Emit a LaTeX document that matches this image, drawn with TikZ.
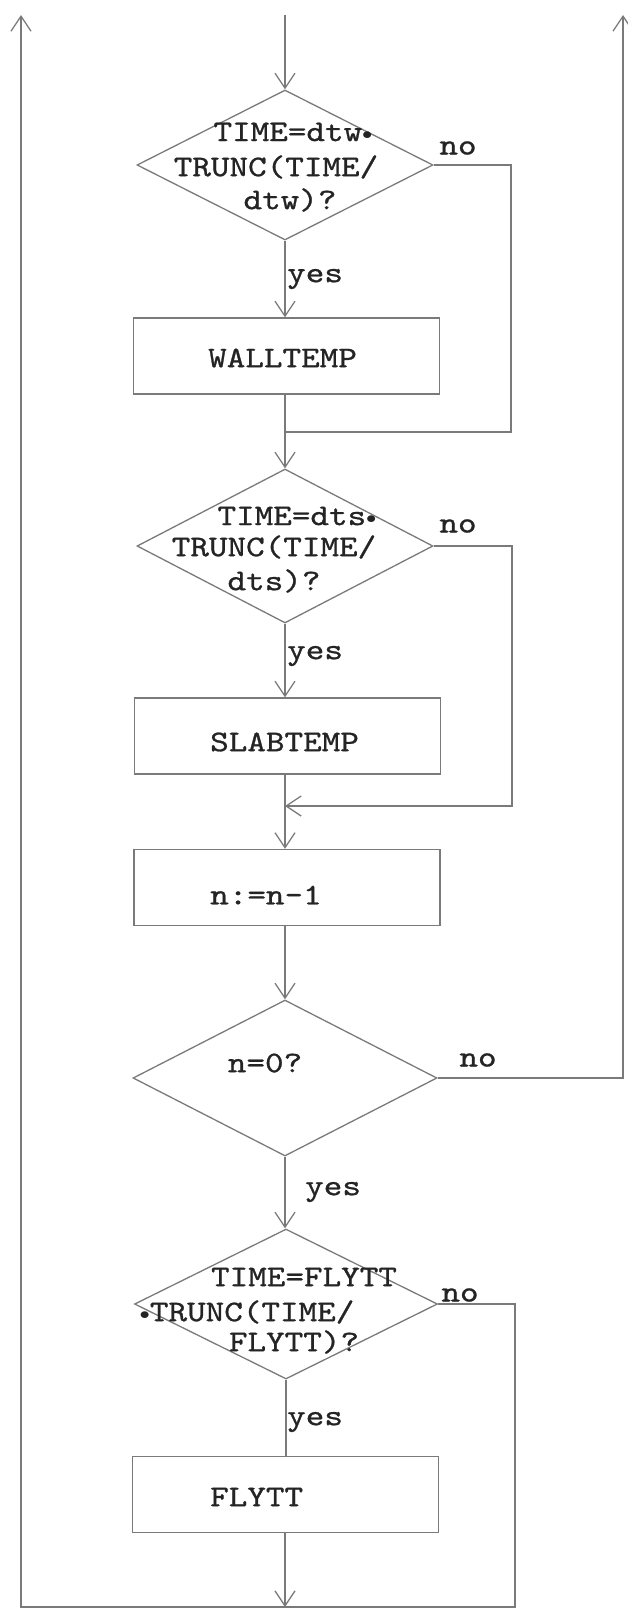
\documentclass[tikz,border=0pt]{standalone}
\usepackage{graphicx}
\usepackage{fontspec}
\newfontfamily\twfont{lmmono10-regular.otf}[FakeBold=0.8]
\usetikzlibrary{shapes.geometric,arrows.meta}
\definecolor{lncol}{HTML}{7A7A7A}
\definecolor{txcol}{HTML}{242424}
\newcommand{\tw}[1]{\scalebox{1.18}[1]{#1}}
\newcommand{\bdot}{\raisebox{0.15ex}{\scalebox{0.7}{$\bullet$}}}
\begin{document}
\begin{tikzpicture}[x=1pt,y=-1pt,
  lnst/.style={draw=lncol,line width=1.3pt},
  arr/.style={draw=lncol,line width=1.3pt,-{Straight Barb[length=15pt,width=20pt]}},
  boxnode/.style={draw=lncol,line width=1.3pt,rectangle,minimum width=306pt,minimum height=76pt,inner sep=0pt},
  dia/.style={draw=lncol,line width=1.3pt,diamond,inner sep=0pt},
  txt/.style={text=txcol,font=\fontsize{30}{34}\selectfont\twfont,inner sep=0pt},
]
\useasboundingbox (0,0) rectangle (627,1617);

% coordinates
\coordinate (top) at (285,15);
\coordinate (lt) at (21,15);
\coordinate (lb) at (21,1607);
\coordinate (rt) at (623,15);
\coordinate (c1) at (511,432);
\coordinate (j1) at (285,432);
\coordinate (c2) at (512,806);
\coordinate (j2) at (285,806);
\coordinate (c4) at (515,1607);
\coordinate (j4) at (285,1607);

% diamond 1
\node[dia,minimum width=296pt,minimum height=150pt] (d1) at (285,165) {};
\node[txt] (d1a) at (293,132) {\tw{TIME=dtw\bdot}};
\node[txt] (d1b) at (276,167) {\tw{TRUNC(TIME/}};
\node[txt] (d1c) at (290,200) {\tw{dtw)?}};
\node[txt] (no1) at (458,148) {\tw{no}};
\node[txt,anchor=west] (yes1) at (287,279) {\tw{yes}};

% box 1
\node[boxnode] (b1) at (286.5,356) {};
\node[txt,anchor=west] (b1t) at (208,358) {\tw{WALLTEMP}};

% diamond 2
\node[dia,minimum width=296pt,minimum height=154pt] (d2) at (285,546) {};
\node[txt] (d2a) at (297,516) {\tw{TIME=dts\bdot}};
\node[txt] (d2b) at (274,547) {\tw{TRUNC(TIME/}};
\node[txt] (d2c) at (274,581) {\tw{dts)?}};
\node[txt] (no2) at (458,526) {\tw{no}};
\node[txt,anchor=west] (yes2) at (287,656) {\tw{yes}};

% box 2
\node[boxnode] (b2) at (287.5,736) {};
\node[txt,anchor=west] (b2t) at (210,742) {\tw{SLABTEMP}};

% box 3
\node[boxnode] (b3) at (287,887.5) {};
\node[txt,anchor=west] (b3t) at (210,895) {\tw{n:=n-1}};

% diamond 3
\node[dia,minimum width=304pt,minimum height=156pt] (d3) at (285,1078) {};
\node[txt] (d3a) at (265,1063) {\tw{n=0?}};
\node[txt] (no3) at (478,1060) {\tw{no}};
\node[txt,anchor=west] (yes3) at (305,1192) {\tw{yes}};

% diamond 4
\node[dia,minimum width=303pt,minimum height=150pt] (d4) at (286,1304) {};
\node[txt] (d4a) at (304,1277) {\tw{TIME=FLYTT}};
\node[txt] (d4b) at (247,1312) {\tw{\bdot TRUNC(TIME/}};
\node[txt] (d4c) at (294,1342) {\tw{FLYTT)?}};
\node[txt] (no4) at (460,1295) {\tw{no}};
\node[txt,anchor=west] (yes4) at (287,1422) {\tw{yes}};

% box 4
\node[boxnode] (b4) at (285.5,1494.5) {};
\node[txt,anchor=west] (b4t) at (210,1497) {\tw{FLYTT}};

% connectors
\draw[arr] (top) -- (d1.north);
\draw[arr] (d1.south) -- (d1.south |- b1.north);
\draw[lnst] (d1.east) -| (c1) -- (j1);
\draw[lnst] (b1.south -| j1) -- (j1);
\draw[arr] (j1) -- (d2.north);
\draw[arr] (d2.south) -- (d2.south |- b2.north);
\draw[arr] (d2.east) -| (c2) -- (j2);
\draw[lnst] (b2.south -| j2) -- (j2);
\draw[arr] (j2) -- (j2 |- b3.north);
\draw[arr] (j2 |- b3.south) -- (d3.north);
\draw[arr] (d3.east) -| (rt);
\draw[arr] (d3.south) -- (d3.south |- d4.north);
\draw[arr] (d4.east) -| (c4) -- (lb) -- (lt);
\draw[lnst] (d4.south) -- (d4.south |- b4.north);
\draw[arr] (j4 |- b4.south) -- (j4);
\end{tikzpicture}
\end{document}
